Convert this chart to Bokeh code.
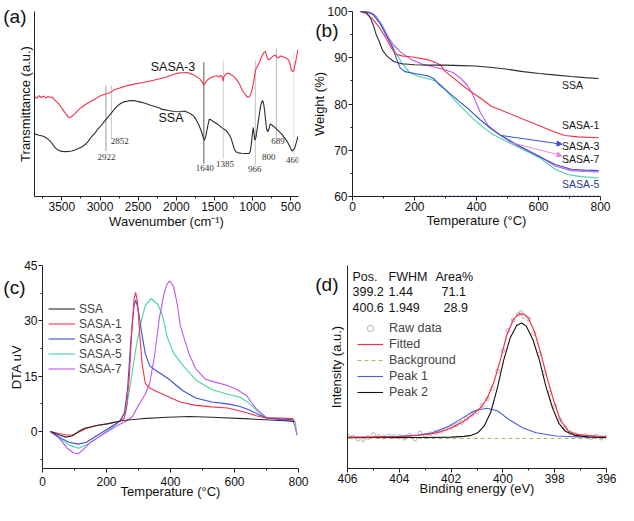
import math
from bokeh.plotting import figure
from bokeh.models import (Range1d, FixedTicker, Label, Legend, LegendItem, Arrow,
                          NormalHead, ColumnDataSource, LinearAxis)
from bokeh.layouts import column, row
from bokeh.embed import file_html
from bokeh.resources import INLINE
from bokeh.core.properties import value

SANS = "Liberation Sans"
SERIF = "Liberation Serif"

# ---------------- (a) FTIR data ----------------
ssa_wn = [3858, 3800, 3752, 3700, 3666, 3630, 3602, 3570, 3538, 3500, 3453, 3410, 3368, 3320, 3283,
          3240, 3197, 3155, 3113, 3070, 3028, 2985, 2942, 2900, 2858, 2815, 2772, 2730, 2687, 2630,
          2581, 2530, 2475, 2410, 2347, 2280, 2219, 2197, 2100, 2028, 1942, 1900, 1857, 1815, 1772,
          1740, 1708, 1685, 1665, 1648, 1632, 1615, 1601, 1585, 1568, 1545, 1517, 1485, 1453, 1400,
          1346, 1310, 1282, 1260, 1240, 1220, 1198, 1150, 1112, 1080, 1048, 1030, 1019, 1005, 993,
          982, 972, 958, 942, 920, 899, 885, 869, 856, 844, 830, 818, 802, 785, 771, 740, 707, 665,
          623, 590, 559, 535, 516, 500, 486, 470, 452, 435, 419, 410]
ssa_tr = [67, 65.5, 64.7, 62.5, 60.3, 57, 53.7, 51, 49.3, 48.3, 48, 48.2, 48.7, 50, 51.3,
          53, 55.3, 59, 63.7, 67.5, 72, 76, 80.3, 84.5, 88.7, 93, 97, 99.5, 101.3, 102.3,
          102.7, 102.3, 101.3, 99.8, 98, 96.3, 94.7, 93.5, 92, 91, 90.7, 91.5, 90.3, 88.5, 86,
          82, 77, 72.5, 68, 63, 60.3, 64, 70.3, 77, 82.7, 82, 80.3, 78.7, 77, 73.5,
          70.3, 66.5, 62, 56, 50.3, 48, 47, 46.3, 46, 46, 46, 49, 55.3, 66, 73.7,
          67, 60.3, 63, 72, 84, 95.3, 100.5, 102.7, 99, 92, 81, 72, 69.3, 73, 77.7, 76, 73.7, 70.5,
          67, 63.5, 60.3, 57, 53.7, 51, 48.7, 49.5, 51.3, 56, 60.3, 64]
sasa3_wn = [3858, 3830, 3800, 3770, 3740, 3710, 3680, 3650, 3628, 3600, 3570, 3538, 3495, 3453, 3420,
            3402, 3380, 3350, 3325, 3285, 3245, 3180, 3117, 3050, 2989, 2940, 2922, 2891, 2852, 2814,
            2730, 2644, 2540, 2431, 2300, 2134, 2060, 1984, 1920, 1857, 1820, 1776, 1730, 1687, 1660,
            1640, 1620, 1600, 1585, 1550, 1510, 1473, 1440, 1420, 1400, 1390, 1385, 1378, 1350, 1329,
            1300, 1282, 1240, 1198, 1165, 1138, 1105, 1074, 1061, 1040, 1020, 1006, 985, 963, 940,
            920, 890, 857, 835, 818, 802, 780, 755, 730, 707, 685, 665, 645, 623, 600,
            570, 536, 510, 495, 474, 460, 452, 435, 419, 410]
sasa3_tr = [107, 105, 108, 106, 107.5, 105.5, 107, 106, 106.5, 104, 101.5, 99, 94, 89, 85.5,
            84.3, 85, 87, 89, 92.5, 95.3, 99, 102, 105, 108, 109.5, 110, 110.3, 112, 114.3,
            116.5, 118.7, 120.5, 122, 124.5, 127.7, 130, 132, 132.5, 132.7, 131.5, 130.3, 128, 125.3, 122,
            119.3, 121.5, 124, 125.3, 127, 128.5, 129.3, 128, 129.5, 128.5, 125, 123.5, 128, 131, 132,
            131.5, 130.3, 128, 123.7, 119, 113.7, 110, 107, 106, 107, 111, 115.3, 124, 135.3, 139,
            142, 148, 153.7, 155.3, 151, 147, 146.5, 148.7, 150.5, 151.3, 149.5, 148, 150, 150.3, 149.5,
            148.5, 147, 142, 135.3, 133.7, 135, 138.7, 145, 152, 157]
mark_wn = [2922, 2852, 1640, 1385, 966, 689, 460]
mark_lo = [48.7, 62, 35.3, 40.3, 33.7, 62, 43.7]
mark_hi = [118.7, 118.7, 143.7, 145.3, 145.3, 158.7, 155.3]
mark_text = ["2922", "2852", "1640", "1385", "966", "800", "689", "460"]
mark_text_wn = [2916, 2740, 1627, 1364, 972, 789, 669, 474]
mark_text_tr = [42, 59.3, 30.3, 35.3, 29.3, 42, 59.3, 38.7]
ftir_ticks = [3500, 3000, 2500, 2000, 1500, 1000, 500]
ftir_minor = [3750, 3250, 2750, 2250, 1750, 1250, 750]

# ---------------- (b) TGA data ----------------
tga_T_ssa = [25, 45, 58, 68, 76, 87, 97, 112, 133, 159, 200, 250, 300, 350, 396, 450, 500, 550,
             603, 650, 706, 750, 794]
tga_ssa = [100, 99.8, 98.6, 96.9, 95.1, 93.4, 91.6, 90.3, 89.2, 88.7, 88.5, 88.4, 88.4, 88.3, 88.2,
           87.9, 87.5, 87.0, 86.6, 86.3, 85.95, 85.7, 85.5]
tga_T_1 = [25, 45, 66, 87, 107, 123, 138, 159, 200, 242, 267, 283, 298, 324, 355, 386, 412, 448,
           500, 551, 603, 654, 685, 727, 794]
tga_1 = [100, 99.5, 98.3, 96.5, 94.4, 92.4, 90.8, 90.4, 90.1, 89.6, 89.0, 88.5, 87.1, 85.7, 84.0,
         82.5, 81.3, 79.5, 78.1, 76.7, 75.3, 73.9, 73.2, 72.9, 72.7]
tga_T_3 = [25, 45, 66, 87, 107, 128, 143, 154, 169, 200, 242, 262, 283, 314, 345, 376, 412, 448,
           479, 510, 551, 603, 654, 706, 750, 794]
tga_3 = [100, 100, 99.3, 97.6, 95.1, 92.4, 89.6, 87.8, 87.0, 86.6, 86.1, 85.5, 84.0, 82.3, 80.5,
         78.8, 76.6, 74.6, 73.2, 72.0, 70.5, 68.6, 66.9, 65.9, 65.7, 65.6]
tga_T_5 = [25, 50, 76, 97, 118, 138, 159, 185, 211, 242, 267, 288, 324, 355, 386, 412, 448, 500,
           551, 603, 654, 696, 737, 794]
tga_5 = [100, 100, 99.0, 96.9, 94.1, 91.3, 88.9, 86.8, 86.0, 85.5, 85.0, 83.9, 81.2, 79.1, 77.0,
         75.5, 73.6, 71.8, 70.1, 68.4, 65.9, 64.7, 64.3, 64.0]
tga_T_7 = [25, 50, 71, 92, 112, 133, 159, 190, 221, 262, 293, 324, 350, 371, 386, 402, 412, 438,
           469, 510, 551, 603, 654, 706, 750, 794]
tga_7 = [100, 100, 99.3, 97.2, 94.8, 92.7, 91.0, 89.6, 88.7, 88.0, 87.5, 86.8, 85.5, 84.0, 82.3,
         79.8, 78.2, 75.3, 73.6, 71.8, 70.4, 68.7, 66.6, 65.6, 65.4, 65.3]
tga_floor_T = [220, 800]
tga_floor = [60.1, 60.1]
tga_labels = ["SSA", "SASA-1", "SASA-3", "SASA-7", "SASA-5"]
tga_label_T = [676, 676, 676, 676, 676]
tga_label_W = [84.1, 75.5, 70.9, 68.2, 62.6]
arrow3 = [479, 73.2, 676, 71.3]
arrow7 = [510, 71.7, 676, 68.8]

# ---------------- (c) DTA data ----------------
dta_T_ssa = [25, 53, 73, 92, 112, 132, 162, 201, 251, 311, 390, 459, 529, 628, 698, 782, 787]
dta_ssa = [0, -0.9, -1.5, -1.2, 0, 0.9, 1.5, 2.1, 3.0, 3.5, 3.9, 4.1, 3.9, 3.5, 3.2, 2.8, 2.6]
dta_T_1 = [25, 53, 82, 97, 112, 137, 172, 211, 241, 256, 263, 271, 279, 286, 291, 297, 303, 311,
           321, 335, 360, 395, 430, 479, 529, 578, 608, 638, 668, 698, 737, 782, 787]
dta_1 = [0, -0.6, -1.0, -0.9, -0.2, 0.85, 1.7, 2.2, 2.8, 3.7, 6.7, 14.4, 27.3, 35.8, 37.7, 35.0,
         27.3, 18.7, 13.1, 11.8, 10.7, 9.4, 8.0, 7.1, 6.7, 6.4, 5.8, 5.1, 4.3, 3.7, 3.7, 3.5, 2.8]
dta_T_3 = [25, 53, 82, 112, 137, 172, 211, 241, 256, 266, 276, 286, 291, 299, 309, 321, 335, 355,
           375, 395, 410, 440, 479, 529, 578, 618, 648, 678, 702, 737, 782]
dta_3 = [0, -1.5, -2.9, -3.4, -2.9, -1.0, 1.1, 2.8, 5.0, 11.8, 24.7, 34.1, 35.6, 33.2, 27.3, 21.2,
         17.8, 16.5, 15.4, 14.2, 13.1, 11.0, 9.1, 8.0, 7.5, 6.8, 5.8, 4.5, 3.7, 3.5, 3.2]
dta_T_5 = [25, 53, 82, 112, 142, 172, 211, 241, 261, 276, 291, 306, 321, 340, 360, 375, 390, 410,
           440, 479, 529, 578, 618, 648, 678, 702, 737, 782, 790, 795]
dta_5 = [0, -1.7, -3.6, -4.5, -3.4, -1.7, 0.7, 2.8, 5.8, 13.5, 22.1, 29.0, 34.1, 36.0, 34.5, 31.5,
         25.5, 21.2, 17.8, 14.0, 11.4, 10.1, 9.3, 7.5, 5.0, 3.7, 3.5, 3.2, 2.6, -1.0]
dta_T_7 = [25, 53, 77, 97, 112, 127, 152, 192, 231, 261, 281, 300, 321, 335, 350, 365, 380, 390,
           398, 410, 422, 430, 440, 459, 479, 509, 539, 578, 608, 638, 668, 698, 718, 782, 789, 795]
dta_7 = [0, -1.9, -4.5, -5.8, -6.0, -4.9, -2.8, -0.6, 1.5, 2.8, 4.1, 7.1, 10.1, 13.1, 20.4, 30.7,
         37.5, 40.1, 40.8, 39.2, 34.1, 29.0, 26.0, 20.8, 17.0, 14.2, 13.4, 12.5, 11.4, 9.7, 6.2, 3.9,
         3.5, 2.8, 1.5, -0.9]

# ---------------- (d) XPS N1s data ----------------
raw_E = [406.0, 405.8, 405.6, 405.4, 405.2, 405.0, 404.8, 404.6, 404.4, 404.2, 404.0, 403.8, 403.6,
         403.4, 403.2, 403.0, 402.8, 402.6, 402.4, 402.2, 402.0, 401.8, 401.6, 401.4, 401.2, 401.0,
         400.8, 400.6, 400.4, 400.2, 400.0, 399.8, 399.6, 399.4, 399.3, 399.2, 399.0, 398.8, 398.6,
         398.4, 398.2, 398.0, 397.8, 397.6, 397.4, 397.2, 397.0, 396.8, 396.6, 396.4, 396.2, 396.0]
raw_I = [1.5, 0.5, -1.5, -2, 0, 3, 1, 0.5, 1.8, 1, 0.8, -0.5, 2.5, -1.5, 5, 2.5, 4, 5, 6.5, 9,
         11, 13.5, 16, 20, 24.5, 27, 34, 41, 52, 70, 92, 113, 124, 130, 132, 128, 125, 110, 88,
         68, 47, 33, 19, 10, 5, 3, 1, 2, 0, 1.5, -0.5, 0.5]
fit_E = [406.0, 405.0, 404.0, 403.2, 402.8, 402.47, 402.1, 401.85, 401.5, 401.22, 400.85, 400.6,
         400.35, 400.1, 399.85, 399.6, 399.42, 399.28, 399.15, 399.03, 398.78, 398.53, 398.28,
         398.03, 397.78, 397.47, 397.2, 396.85, 396.4, 396.0]
fit_I = [0.3, 0.6, 1.1, 2.4, 3.8, 5.7, 9.0, 12.3, 17.5, 23.3, 31.7, 41.7, 58.3, 81.7, 108.3, 124.3,
         129.8, 130.7, 129.5, 126.7, 111.7, 88.3, 61.7, 38.3, 18.3, 6.7, 3.6, 2.3, 1.4, 1.0]
bg_E = [406.0, 396.0]
bg_I = [-1.0, -1.0]
p1_E = [406.0, 405.0, 404.0, 403.3, 402.72, 402.1, 401.6, 401.1, 400.62, 400.22, 399.72, 399.22,
        398.72, 397.97, 397.0, 396.0]
p1_I = [0.3, 0.6, 1.2, 2.5, 5.0, 11.7, 20.0, 28.3, 31.0, 28.3, 18.3, 10.0, 5.0, 1.7, 0.6, 0.3]
p2_E = [406.0, 403.0, 402.0, 401.5, 401.22, 400.97, 400.72, 400.47, 400.22, 399.97, 399.72, 399.47,
        399.28, 399.10, 398.84, 398.59, 398.35, 398.09, 397.84, 397.59, 397.22, 396.72, 396.0]
p2_I = [0, 0.1, 0.4, 1.2, 2.3, 5.0, 12.3, 26.7, 51.7, 81.7, 105, 118.3, 121, 117.7, 103.3, 81.7,
        55, 31.7, 15, 6.7, 2.3, 0.7, 0.1]
tbl_head = ["Pos.", "FWHM", "Area%"]
tbl_pos = ["399.2", "400.6"]
tbl_fwhm = ["1.44", "1.949"]
tbl_area = ["71.1", "28.9"]

# ---------------- styling ----------------
C_SSA = "#2b2b2b"
C_1 = "#f2334c"
C_3 = "#3b4fd4"
C_5 = "#44d6a0"
C_7 = "#bf55ec"
TICK_FS = "12px"
TITLE_FS = "13px"


def style_axis(ax, tick_out=4, standoff=1):
    ax.axis_line_color = "#222222"
    ax.major_tick_line_color = "#222222"
    ax.minor_tick_line_color = "#222222"
    ax.major_tick_in = 0
    ax.major_tick_out = tick_out
    ax.minor_tick_in = 0
    ax.minor_tick_out = min(tick_out, 2)
    ax.major_label_standoff = standoff
    ax.major_label_text_font = SANS
    ax.major_label_text_font_size = TICK_FS
    ax.major_label_text_color = "#111111"
    ax.axis_label_text_font = SANS
    ax.axis_label_text_font_size = TITLE_FS
    ax.axis_label_text_font_style = "normal"
    ax.axis_label_text_color = "#111111"


def mkfig(xr, yr, w, h, bl, br, bt, bb):
    p = figure(width=w, height=h, x_range=xr, y_range=yr, output_backend="svg",
               toolbar_location=None, min_border_left=bl, min_border_right=br,
               min_border_top=bt, min_border_bottom=bb)
    p.grid.visible = False
    p.outline_line_color = None
    style_axis(p.xaxis[0])
    style_axis(p.yaxis[0])
    return p


def set_titles(p, xtitle, xstand, ytitle, ystand):
    p.xaxis.axis_label = xtitle
    p.xaxis.axis_label_standoff = xstand
    p.yaxis.axis_label = ytitle
    p.yaxis.axis_label_standoff = ystand


def letter(p, ytick, text, standoff):
    ax = LinearAxis(ticker=FixedTicker(ticks=[ytick]), major_label_overrides={ytick: text})
    ax.axis_line_color = None
    ax.major_tick_line_color = None
    ax.minor_tick_line_color = None
    ax.major_tick_in = 0
    ax.major_tick_out = 0
    ax.minor_tick_in = 0
    ax.minor_tick_out = 0
    ax.major_label_standoff = standoff
    ax.major_label_text_font = SANS
    ax.major_label_text_font_size = "19px"
    ax.major_label_text_color = "#111111"
    p.add_layout(ax, "left")


def lab(p, x, y, text, size=TITLE_FS, align="center", units="data", color="#111111"):
    p.add_layout(Label(x=x, y=y, x_units=units, y_units=units, text=text,
                       text_align=align, text_baseline="middle", text_font=SANS,
                       text_font_size=size, text_color=color))


# ---------------- panel (a) ----------------
pa = mkfig(Range1d(3858, 400), Range1d(0, 198), 309, 252, 34, 11, 4, 56)
pa.xaxis.ticker = FixedTicker(ticks=ftir_ticks, minor_ticks=ftir_minor)
pa.yaxis.ticker = FixedTicker(ticks=[])
style_axis(pa.yaxis[0], tick_out=0, standoff=0)
pa.yaxis.major_label_text_font_size = "0px"
set_titles(pa, "Wavenumber (cm\u207b\u00b9)", 0, "Transmittance (a.u.)", 2)
letter(pa, 193, "(a)", -12)
pa.segment(x0=mark_wn, y0=mark_lo, x1=mark_wn, y1=mark_hi,
           line_color=["#9a9a9a", "#c4c4c4", "#555555", "#d0d0d0", "#c0c0c0", "#b8b8b8", "#dddddd"],
           line_width=1)
pa.line(sasa3_wn, sasa3_tr, line_color=C_1, line_width=1.1)
pa.line(ssa_wn, ssa_tr, line_color=C_SSA, line_width=1.1)
src_marks = ColumnDataSource(dict(x=mark_text_wn, y=mark_text_tr, t=mark_text))
pa.text(x="x", y="y", text="t", source=src_marks, text_font=value(SERIF),
        text_font_size=value("9px"), text_align="center", text_baseline="middle",
        text_color="#333333")
lab(pa, 2044, 139, "SASA-3", size="12.5px")
lab(pa, 2070, 84, "SSA", size="12.5px")

# ---------------- panel (b) ----------------
pb = mkfig(Range1d(0, 800), Range1d(60, 100), 309, 252, 39, 18, 11, 55)
pb.xaxis.ticker = FixedTicker(ticks=[0, 200, 400, 600, 800], minor_ticks=[100, 300, 500, 700])
pb.yaxis.ticker = FixedTicker(ticks=[60, 70, 80, 90, 100], minor_ticks=[65, 75, 85, 95])
set_titles(pb, "Temperature (\u00b0C)", -1, "Weight (%)", -3)
letter(pb, 96, "(b)", -29)
pb.line(tga_floor_T, tga_floor, line_color=C_3, line_width=1, line_dash="2 2", line_alpha=0.8)
pb.line(tga_T_5, tga_5, line_color=C_5, line_width=1.1)
pb.line(tga_T_7, tga_7, line_color=C_7, line_width=1.1)
pb.line(tga_T_3, tga_3, line_color=C_3, line_width=1.1)
pb.line(tga_T_1, tga_1, line_color=C_1, line_width=1.1)
pb.line(tga_T_ssa, tga_ssa, line_color=C_SSA, line_width=1.1)
for arr, col in ((arrow3, C_3), (arrow7, "#e08ae8")):
    pb.add_layout(Arrow(end=NormalHead(size=5, fill_color=col, line_color=col),
                        x_start=arr[0], y_start=arr[1], x_end=arr[2], y_end=arr[3],
                        line_color=col, line_width=1))
for t, x, y in zip(tga_labels, tga_label_T, tga_label_W):
    lab(pb, x, y, t, size="10.5px", align="left",
        color="#2a3c8c" if t == "SASA-5" else "#151515")

# ---------------- panel (c) ----------------
pc = mkfig(Range1d(0, 800), Range1d(-10, 45), 309, 253, 36, 11, 9, 37)
pc.xaxis.ticker = FixedTicker(ticks=[0, 200, 400, 600, 800], minor_ticks=[100, 300, 500, 700])
pc.yaxis.ticker = FixedTicker(ticks=[0, 15, 30, 45], minor_ticks=[-7.5, 7.5, 22.5, 37.5])
pc.xaxis.major_label_standoff = 4
set_titles(pc, "Temperature (\u00b0C)", -5, "DTA uV", -3)
letter(pc, 39, "(c)", -19)
r5 = pc.line(dta_T_5, dta_5, line_color=C_5, line_width=1.1)
r7 = pc.line(dta_T_7, dta_7, line_color=C_7, line_width=1.1)
r3 = pc.line(dta_T_3, dta_3, line_color=C_3, line_width=1.1)
r1 = pc.line(dta_T_1, dta_1, line_color=C_1, line_width=1.1)
r0 = pc.line(dta_T_ssa, dta_ssa, line_color=C_SSA, line_width=1.1)
leg_c = Legend(items=[LegendItem(label="SSA", renderers=[r0]),
                      LegendItem(label="SASA-1", renderers=[r1]),
                      LegendItem(label="SASA-3", renderers=[r3]),
                      LegendItem(label="SASA-5", renderers=[r5]),
                      LegendItem(label="SASA-7", renderers=[r7])],
               location=(6, 92), label_text_font=SANS, label_text_font_size="12px",
               glyph_width=27, glyph_height=15, label_height=15, spacing=0, padding=0,
               margin=0, label_standoff=4, border_line_color=None, background_fill_alpha=0)
pc.add_layout(leg_c)

# ---------------- panel (d) ----------------
pd = mkfig(Range1d(406, 396), Range1d(-32.7, 181.7), 309, 253, 38, 12, 13, 32)
pd.xaxis.ticker = FixedTicker(ticks=[396, 398, 400, 402, 404, 406],
                              minor_ticks=[397, 399, 401, 403, 405])
pd.yaxis.ticker = FixedTicker(ticks=[])
style_axis(pd.yaxis[0], tick_out=0, standoff=0)
pd.yaxis.major_label_text_font_size = "0px"
set_titles(pd, "Binding energy (eV)", -5, "Intensity (a.u.)", 4)
letter(pd, 162, "(d)", -13)
rr = pd.scatter(raw_E, raw_I, marker="circle", size=4, fill_color=None, line_color="#9aa4ac",
                line_width=0.8)
rb = pd.line(bg_E, bg_I, line_color="#a9bb5a", line_width=1.2, line_dash="4 3")
rp1 = pd.line(p1_E, p1_I, line_color="#4a5fe0", line_width=1.1)
rp2 = pd.line(p2_E, p2_I, line_color="#111111", line_width=1.1)
rf = pd.line(fit_E, fit_I, line_color=C_1, line_width=1.2)
leg_d = Legend(items=[LegendItem(label="Raw data", renderers=[rr]),
                      LegendItem(label="Fitted", renderers=[rf]),
                      LegendItem(label="Background", renderers=[rb]),
                      LegendItem(label="Peak 1", renderers=[rp1]),
                      LegendItem(label="Peak 2", renderers=[rp2])],
               location=(10, 68), label_text_font=SANS, label_text_font_size="12.5px",
               glyph_width=26, glyph_height=16, label_height=16, spacing=0, padding=0,
               margin=0, label_standoff=6, border_line_color=None, background_fill_alpha=0)
pd.add_layout(leg_d)
col_x = [5, 41, 88]
lab(pd, col_x[0], 192, tbl_head[0], size="12.5px", align="left", units="screen")
lab(pd, col_x[1], 192, tbl_head[1], size="12.5px", align="left", units="screen")
lab(pd, col_x[2], 192, tbl_head[2], size="12.5px", align="left", units="screen")
for i, yy in enumerate([177.5, 161.5]):
    lab(pd, col_x[0], yy, tbl_pos[i], size="12.5px", align="left", units="screen")
    lab(pd, col_x[1], yy, tbl_fwhm[i], size="12.5px", align="left", units="screen")
    lab(pd, col_x[2] + 6 + 2 * i, yy, tbl_area[i], size="12.5px", align="left", units="screen")

layout = column(row(pa, pb), row(pc, pd))
open("out.html", "w").write(file_html(layout, INLINE))
